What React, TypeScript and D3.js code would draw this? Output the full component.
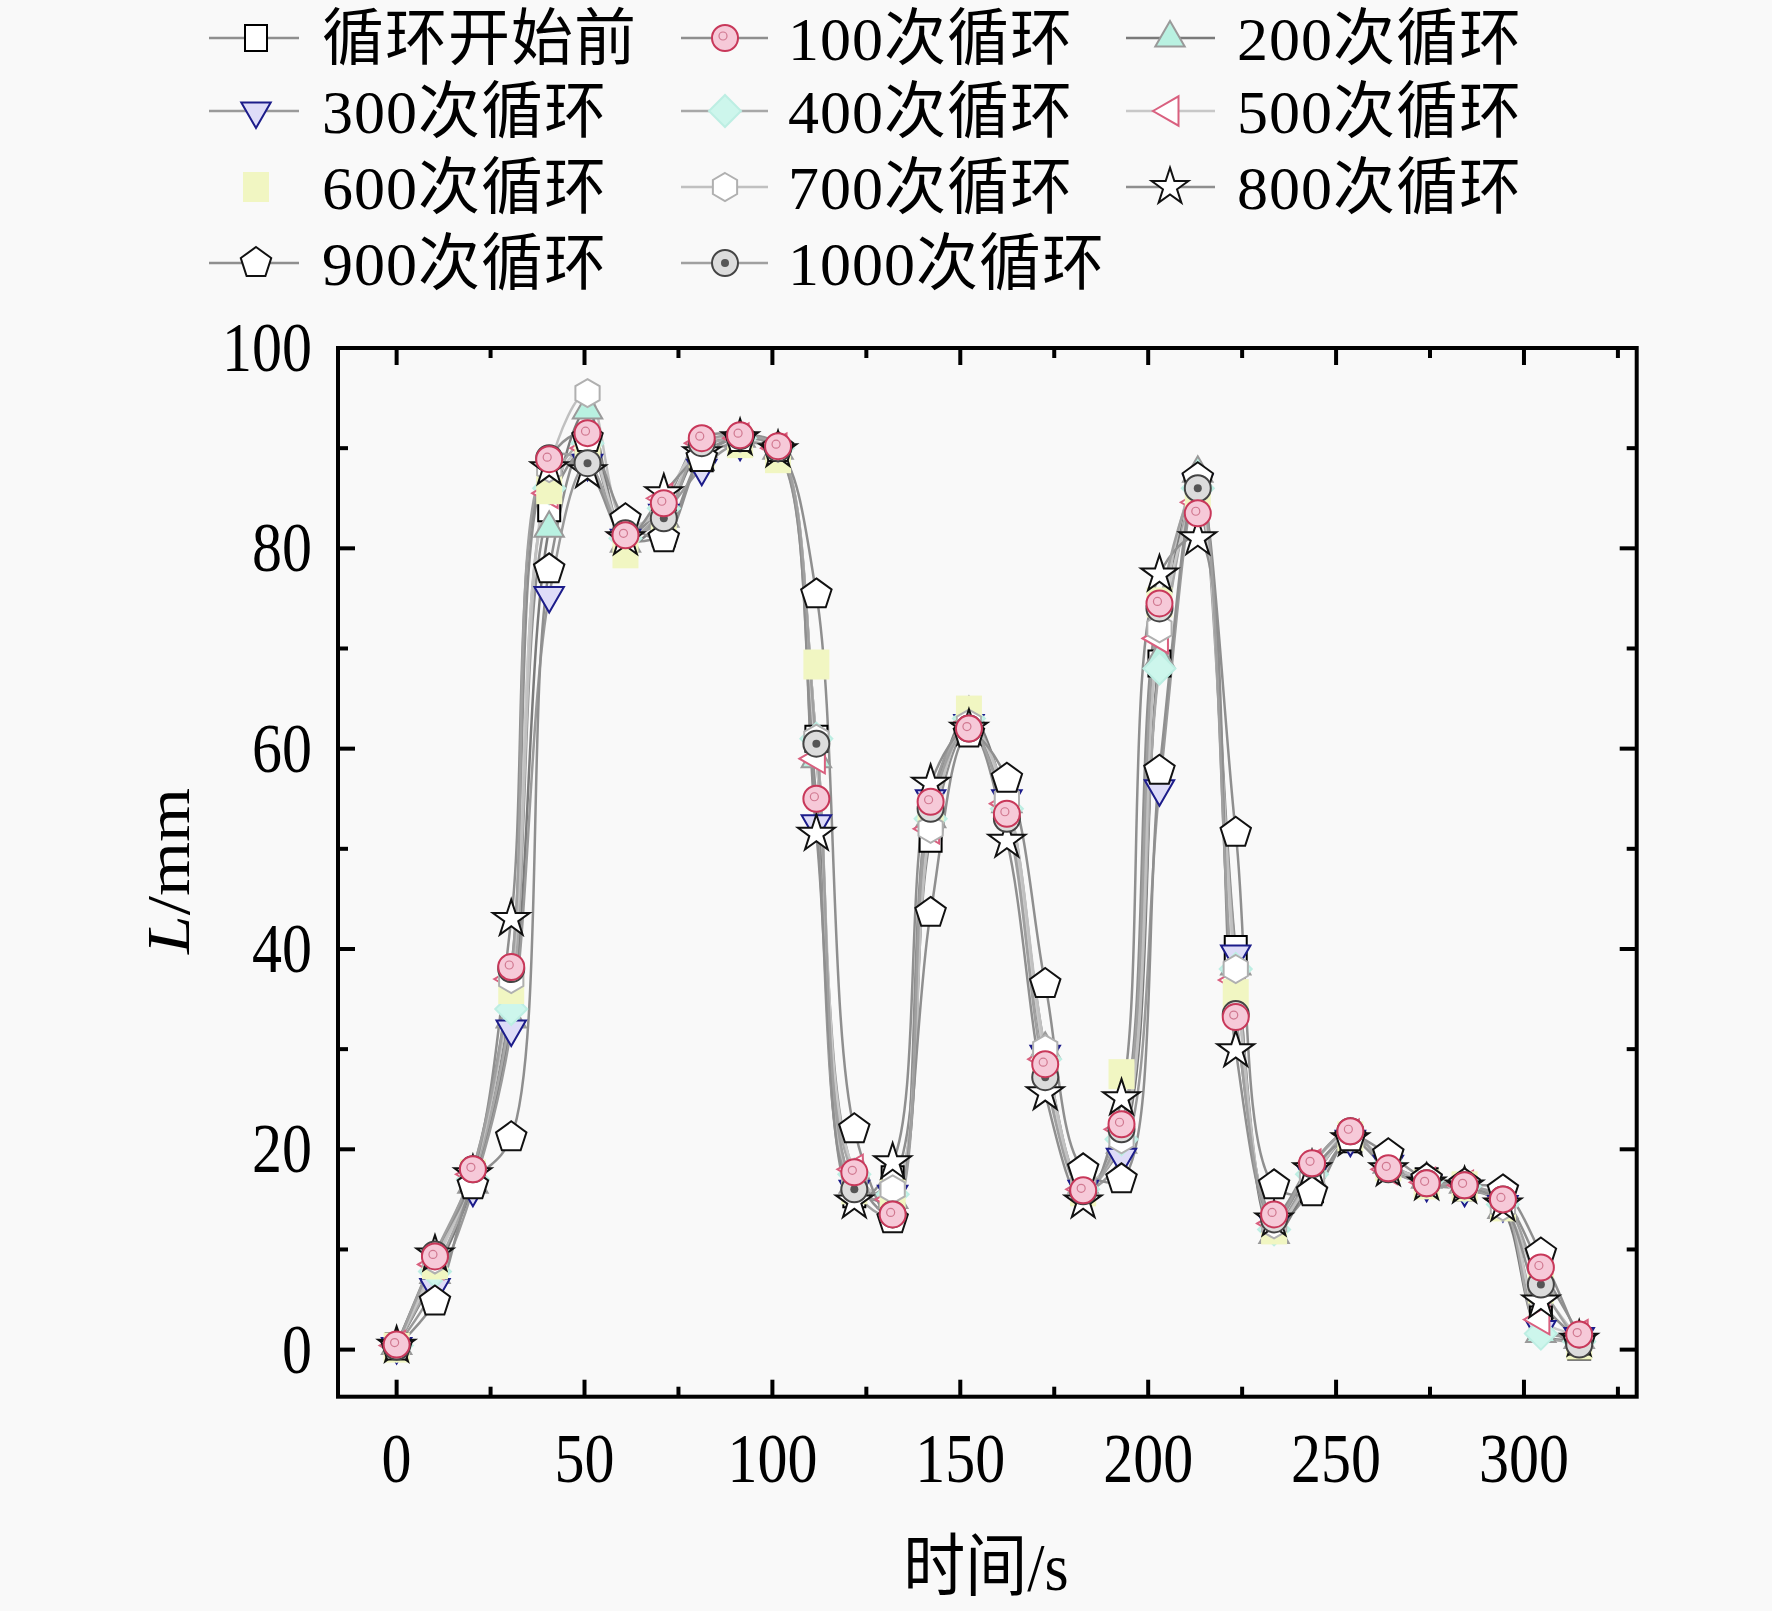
import React, { useEffect, useRef } from 'react';
import * as d3 from 'd3';

// sample times (s)
const times = [0, 10.2, 20.3, 30.5, 40.6, 50.8, 60.9, 71.1, 81.2, 91.4, 101.5, 111.7, 121.8, 132.0, 142.1, 152.3,
  162.4, 172.6, 182.7, 192.9, 203.0, 213.2, 223.3, 233.5, 243.6, 253.8, 263.9, 274.1, 284.2, 294.4, 304.5, 314.7];

const xTicks = [0, 50, 100, 150, 200, 250, 300];
const xMinor = [25, 75, 125, 175, 225, 275, 325];
const yTicks = [0, 20, 40, 60, 80, 100];
const yMinor = [10, 30, 50, 70, 90];

const before = [0.3, 8.8, 17, 35, 84, 90, 81, 81.5, 89, 90.5, 89.5, 61, 15.5, 17, 51, 62, 54, 29, 16.5, 21, 68.5, 86, 40, 12.5, 16, 21, 18.5, 16.8, 16.2, 14.5, 3, 0.3];
const c100 = [0.5, 9.3, 18, 38.2, 88.9, 91.5, 81.3, 84.5, 91, 91.3, 90.2, 55, 17.7, 13.5, 54.7, 62, 53.5, 28.5, 15.9, 22.5, 74.5, 83.5, 33.2, 13.5, 18.6, 21.8, 18.1, 16.6, 16.4, 15, 8.2, 1.5];
const c200 = [0.4, 7.5, 16.5, 33, 82, 93.8, 80.5, 83, 90, 91, 89.8, 59, 16.5, 15, 53, 63.5, 54.5, 30, 16.5, 20.5, 69, 87.5, 38.3, 11.5, 17, 21.3, 18.5, 17, 16.5, 14, 1.6, 1];
const c300 = [0.3, 6.2, 16, 32, 75.3, 88.5, 81, 83.5, 88, 90.5, 89.5, 52.5, 16, 15.5, 55, 62.5, 55, 29.5, 16, 19.2, 56, 86.5, 39.5, 12.5, 17.5, 21, 18.5, 16.5, 16, 14.5, 2, 1.3];
const c400 = [0.4, 7.8, 17, 34, 86, 90.5, 81, 84, 90, 91, 90, 61, 17.5, 15.5, 53, 63, 54, 29, 16, 21, 68, 86, 38, 12, 17.5, 21.5, 18.5, 16.8, 16.3, 14.5, 1.6, 0.8];
const c500 = [0.4, 8.5, 17.5, 37, 85.5, 90, 81.5, 85, 90.5, 91, 90, 59, 18, 15, 52, 62.5, 54.5, 29, 16, 22, 71, 84.6, 36.9, 12.6, 18.5, 21.5, 18, 16.7, 16.4, 15, 3, 1.5];
const c600 = [0.2, 8.5, 17.5, 36, 85.9, 90, 79.5, 83, 89.5, 90.5, 89, 68.4, 16, 15.5, 54, 63.8, 54, 28.5, 15.8, 27.5, 74.6, 85, 35.5, 12, 17, 21.3, 18.3, 16.5, 16.3, 14.3, 6.1, 0.5];
const c700 = [0.4, 9, 17.5, 37, 88, 95.5, 82.4, 84, 90.6, 91, 90, 61, 16.5, 16, 52, 62.5, 55, 30, 16.5, 21, 72, 86.8, 38, 12.5, 17, 21.5, 18.5, 17, 16.5, 14.3, 6.3, 1];
const c800 = [0.4, 9.5, 17.5, 43, 88, 87.7, 81, 85.5, 89.5, 91, 89.8, 51.5, 14.8, 18.7, 56.5, 62, 50.8, 25.6, 14.8, 25.1, 77.4, 81, 29.9, 13, 18, 21, 18, 16.6, 16.3, 14.5, 4.8, 1];
const c900 = [0.3, 4.8, 16.4, 21.2, 77.9, 91, 82.9, 81, 89, 91, 90, 75.4, 22, 13, 43.6, 61.5, 57, 36.5, 18, 17, 57.8, 87, 51.6, 16.4, 15.7, 21.2, 19.5, 17, 16.5, 15.9, 9.6, 0.8];
const c1000 = [0.3, 9.5, 18, 38, 89, 88.5, 81.5, 83, 90.5, 91.2, 90, 60.5, 16, 13.5, 54, 62, 53, 27.2, 15.8, 22, 74, 86, 33.5, 13, 18.5, 21.8, 18, 16.6, 16.4, 15, 6.5, 0.5];

const labels = ['循环开始前', '100次循环', '200次循环', '300次循环', '400次循环', '500次循环',
  '600次循环', '700次循环', '800次循环', '900次循环', '1000次循环'];

interface Series {
  name: string;
  values: number[];
  marker: string;
  stroke: string;
  fill: string;
  line: string | null;
}

const seriesList: Series[] = [
  { name: labels[0], values: before, marker: 'square', stroke: '#000', fill: '#fff', line: '#8f8f8f' },
  { name: labels[1], values: c100, marker: 'circle', stroke: '#c8385a', fill: '#f6c9d8', line: '#8f8f8f' },
  { name: labels[2], values: c200, marker: 'triUp', stroke: '#9a9a9a', fill: '#b9f1e1', line: '#7a7a7a' },
  { name: labels[3], values: c300, marker: 'triDown', stroke: '#1c1c8a', fill: '#dedcf8', line: '#9a9a9a' },
  { name: labels[4], values: c400, marker: 'diamond', stroke: '#bdeee3', fill: '#cdf6ec', line: '#a8a8a8' },
  { name: labels[5], values: c500, marker: 'triLeft', stroke: '#d9607f', fill: '#fff', line: '#c8c8c8' },
  { name: labels[6], values: c600, marker: 'bigSquare', stroke: 'none', fill: '#f1f6c2', line: null },
  { name: labels[7], values: c700, marker: 'hexagon', stroke: '#b0b0b0', fill: '#fff', line: '#c0c0c0' },
  { name: labels[8], values: c800, marker: 'star', stroke: '#111', fill: '#fff', line: '#8f8f8f' },
  { name: labels[9], values: c900, marker: 'pentagon', stroke: '#111', fill: '#fff', line: '#8f8f8f' },
  { name: labels[10], values: c1000, marker: 'dotCircle', stroke: '#444', fill: '#dcdcdc', line: '#a0a0a0' },
];

const FONT = "'Liberation Serif', 'Times New Roman', 'Noto Sans CJK SC', serif";

function polygon(n: number, r: number, rot: number): string {
  const pts: string[] = [];
  for (let i = 0; i < n; i++) {
    const a = rot + (i * 2 * Math.PI) / n;
    pts.push(`${(r * Math.cos(a)).toFixed(2)},${(r * Math.sin(a)).toFixed(2)}`);
  }
  return 'M' + pts.join('L') + 'Z';
}

function markerPath(kind: string): string {
  switch (kind) {
    case 'circle':
    case 'dotCircle':
      return d3.symbol(d3.symbolCircle, Math.PI * 13 * 13)() || '';
    case 'square':
      return 'M-11,-13L11,-13L11,13L-11,13Z';
    case 'bigSquare':
      return 'M-13,-15L13,-15L13,15L-13,15Z';
    case 'triUp':
      return polygon(3, 17, -Math.PI / 2);
    case 'triDown':
      return polygon(3, 17, Math.PI / 2);
    case 'triLeft':
      return polygon(3, 17, Math.PI);
    case 'diamond':
      return polygon(4, 16, 0);
    case 'hexagon':
      return polygon(6, 14, -Math.PI / 2);
    case 'pentagon':
      return polygon(5, 16, -Math.PI / 2);
    case 'star':
      return d3.symbol(d3.symbolStar, 420)() || '';
    default:
      return '';
  }
}

const App: React.FC = () => {
  const svgRef = useRef<SVGSVGElement>(null);

  useEffect(() => {
    if (!svgRef.current) return;
    const svg = d3.select(svgRef.current);
    svg.selectAll('*').remove();

    svg.append('rect').attr('width', 1772).attr('height', 1611).attr('fill', '#f9f9f9');

    const left = 338, right = 1636.7, top = 348, bottom = 1396.7;
    const x = d3.scaleLinear().domain([-15.6, 330]).range([left, right]);
    const y = d3.scaleLinear().domain([-4.7, 100]).range([bottom, top]);

    // lines
    const line = d3.line<number>()
      .x((_, i) => x(times[i]))
      .y(d => y(d))
      .curve(d3.curveCatmullRom.alpha(0.5));

    const plot = svg.append('g');
    seriesList.forEach(s => {
      if (!s.line) return;
      plot.append('path')
        .datum(s.values)
        .attr('fill', 'none')
        .attr('stroke', s.line)
        .attr('stroke-width', 2.5)
        .attr('d', line);
    });

    const drawMarker = (g: d3.Selection<SVGGElement, unknown, null, undefined>, s: Series, cx: number, cy: number) => {
      g.append('path')
        .attr('transform', `translate(${cx},${cy})`)
        .attr('d', markerPath(s.marker))
        .attr('fill', s.fill)
        .attr('stroke', s.stroke)
        .attr('stroke-width', 2);
      if (s.marker === 'dotCircle') {
        g.append('circle').attr('cx', cx).attr('cy', cy).attr('r', 4).attr('fill', '#555');
      }
      if (s.marker === 'circle') {
        g.append('circle').attr('cx', cx - 2).attr('cy', cy - 2).attr('r', 4)
          .attr('fill', 'none').attr('stroke', '#d07890').attr('stroke-width', 1.2);
      }
    };

    const order = [0, 2, 3, 4, 5, 6, 7, 8, 9, 10, 1];
    order.forEach(k => {
      const s = seriesList[k];
      const g = plot.append('g');
      s.values.forEach((v, i) => drawMarker(g, s, x(times[i]), y(v)));
    });

    // frame
    svg.append('rect')
      .attr('x', left).attr('y', top)
      .attr('width', right - left).attr('height', bottom - top)
      .attr('fill', 'none').attr('stroke', '#000').attr('stroke-width', 4);

    const ticks = svg.append('g').attr('stroke', '#000').attr('stroke-width', 4);
    xTicks.forEach(t => {
      ticks.append('line').attr('x1', x(t)).attr('x2', x(t)).attr('y1', bottom).attr('y2', bottom - 17);
      ticks.append('line').attr('x1', x(t)).attr('x2', x(t)).attr('y1', top).attr('y2', top + 17);
    });
    xMinor.forEach(t => {
      ticks.append('line').attr('x1', x(t)).attr('x2', x(t)).attr('y1', bottom).attr('y2', bottom - 10);
      ticks.append('line').attr('x1', x(t)).attr('x2', x(t)).attr('y1', top).attr('y2', top + 10);
    });
    yTicks.forEach(t => {
      ticks.append('line').attr('x1', left).attr('x2', left + 17).attr('y1', y(t)).attr('y2', y(t));
      ticks.append('line').attr('x1', right).attr('x2', right - 17).attr('y1', y(t)).attr('y2', y(t));
    });
    yMinor.forEach(t => {
      ticks.append('line').attr('x1', left).attr('x2', left + 10).attr('y1', y(t)).attr('y2', y(t));
      ticks.append('line').attr('x1', right).attr('x2', right - 10).attr('y1', y(t)).attr('y2', y(t));
    });

    // tick labels
    xTicks.forEach(t => {
      svg.append('text')
        .attr('transform', `translate(${x(t)},1482) scale(1,1.18)`)
        .attr('text-anchor', 'middle')
        .attr('font-family', FONT)
        .attr('font-size', 60)
        .text(t);
    });
    yTicks.forEach(t => {
      svg.append('text')
        .attr('transform', `translate(312,${y(t) + 23}) scale(1,1.18)`)
        .attr('text-anchor', 'end')
        .attr('font-family', FONT)
        .attr('font-size', 60)
        .text(t);
    });

    // axis titles
    svg.append('text')
      .attr('transform', 'translate(986,1590) scale(1,1.1)')
      .attr('text-anchor', 'middle')
      .attr('font-family', FONT)
      .attr('font-size', 62)
      .text('时间/s');

    const yt = svg.append('text')
      .attr('transform', 'translate(189,871) rotate(-90) scale(1.12,1)')
      .attr('text-anchor', 'middle')
      .attr('font-family', FONT)
      .attr('font-size', 62);
    yt.append('tspan').attr('font-style', 'italic').text('L');
    yt.append('tspan').text('/mm');

    // legend
    const colLine = [[209, 299], [681, 768], [1126, 1215]];
    const colMarker = [256, 725, 1170];
    const colText = [322, 788, 1237];
    const rowY = [38, 111, 187, 263];
    const legend = svg.append('g');
    seriesList.forEach((s, i) => {
      const c = i % 3;
      const r = Math.floor(i / 3);
      const cy = rowY[r];
      if (s.line) {
        legend.append('line')
          .attr('x1', colLine[c][0]).attr('x2', colLine[c][1])
          .attr('y1', cy).attr('y2', cy)
          .attr('stroke', s.line).attr('stroke-width', 2.5);
      }
      drawMarker(legend, s, colMarker[c], cy);
      legend.append('text')
        .attr('x', colText[c])
        .attr('y', cy + 22)
        .attr('font-family', FONT)
        .attr('font-size', 62)
        .attr('letter-spacing', 1)
        .text(s.name);
    });
  }, []);

  return (
    <svg
      ref={svgRef}
      width={1772}
      height={1611}
      style={{ position: 'absolute', left: 0, top: 0 }}
    />
  );
};

export default App;
